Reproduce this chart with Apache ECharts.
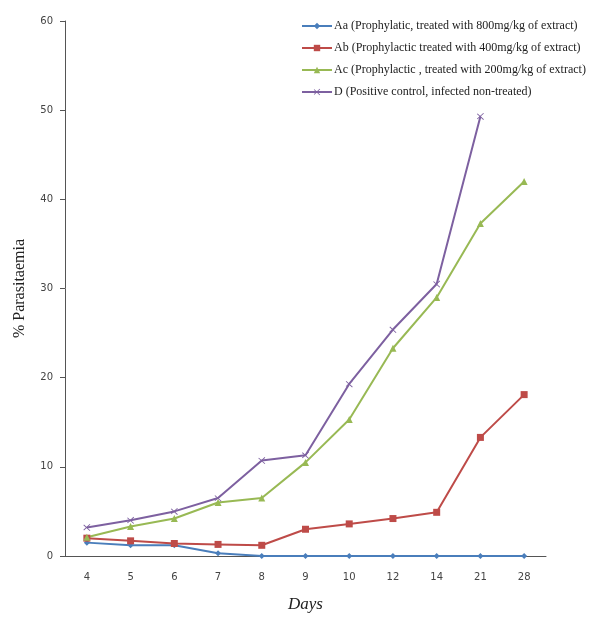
<!DOCTYPE html>
<html>
<head>
<meta charset="utf-8">
<script src="https://cdn.jsdelivr.net/npm/echarts@6/dist/echarts.min.js"></script>
<style>html,body{margin:0;padding:0;background:#fff}#c{width:594px;height:618px}</style>
</head>
<body>
<div id="c"></div>
<script>
const days = ['4','5','6','7','8','9','10','12','14','21','28'];
const yTicks = [0,10,20,30,40,50,60];
const seriesNames = [
  'Aa (Prophylatic, treated with 800mg/kg of extract)',
  'Ab (Prophylactic treated with 400mg/kg of extract)',
  'Ac (Prophylactic , treated with 200mg/kg of extract)',
  'D (Positive control, infected non-treated)'
];
const aaValues = [1.5, 1.2, 1.2, 0.3, 0, 0, 0, 0, 0, 0, 0];
const abValues = [2.0, 1.7, 1.4, 1.3, 1.2, 3.0, 3.6, 4.2, 4.9, 13.3, 18.1];
const acValues = [2.1, 3.3, 4.2, 6.0, 6.5, 10.5, 15.3, 23.3, 29.0, 37.3, 42.0];
const dValues  = [3.2, 4.0, 5.0, 6.5, 10.7, 11.3, 19.3, 25.4, 30.5, 49.3, null];

const colors = ['#4a7ebb', '#be4b48', '#98b954', '#7d60a0'];
const xSym = 'path://M0,0 L10,10 L9,11 L-1,1 Z M10,0 L0,10 L-1,9 L9,-1 Z';

const chart = echarts.init(document.getElementById('c'));
chart.setOption({
  animation: false,
  backgroundColor: '#fff',
  grid: { left: 65, right: 48, top: 21, bottom: 58, containLabel: false },
  legend: {
    orient: 'vertical',
    left: 296,
    top: 15,
    itemWidth: 30,
    itemHeight: 8,
    itemGap: 10,
    textStyle: { fontFamily: 'Liberation Serif, serif', fontSize: 12, color: '#222', padding: [0,0,0,-3] },
    data: seriesNames
  },
  xAxis: {
    type: 'category',
    data: days,
    boundaryGap: true,
    name: 'Days',
    nameLocation: 'middle',
    nameGap: 40,
    nameTextStyle: { fontFamily: 'Liberation Serif, serif', fontStyle: 'italic', fontSize: 17, color: '#222' },
    axisLine: { lineStyle: { color: '#555', width: 1 } },
    axisTick: { alignWithLabel: true, length: 4, lineStyle: { color: '#555' } },
    axisLabel: { fontFamily: 'DejaVu Sans, sans-serif', fontSize: 10, color: '#444', margin: 16 },
    splitLine: { show: false }
  },
  yAxis: {
    type: 'value',
    min: yTicks[0],
    max: yTicks[yTicks.length - 1],
    interval: 10,
    name: '% Parasitaemia',
    nameLocation: 'middle',
    nameGap: 37,
    nameTextStyle: { fontFamily: 'Liberation Serif, serif', fontSize: 16, color: '#222' },
    axisLine: { show: true, lineStyle: { color: '#555', width: 1 } },
    axisTick: { show: true, length: 5, lineStyle: { color: '#555' } },
    axisLabel: { fontFamily: 'DejaVu Sans, sans-serif', fontSize: 10, color: '#444', margin: 12 },
    splitLine: { show: false }
  },
  series: [
    { name: seriesNames[0], type: 'line', data: aaValues, color: colors[0],
      symbol: 'diamond', symbolSize: 6, lineStyle: { width: 2 } },
    { name: seriesNames[1], type: 'line', data: abValues, color: colors[1],
      symbol: 'rect', symbolSize: 7, lineStyle: { width: 2 } },
    { name: seriesNames[2], type: 'line', data: acValues, color: colors[2],
      symbol: 'triangle', symbolSize: 7, lineStyle: { width: 2 } },
    { name: seriesNames[3], type: 'line', data: dValues, color: colors[3],
      symbol: xSym, symbolSize: 7, lineStyle: { width: 2 } }
  ]
});
</script>
</body>
</html>
